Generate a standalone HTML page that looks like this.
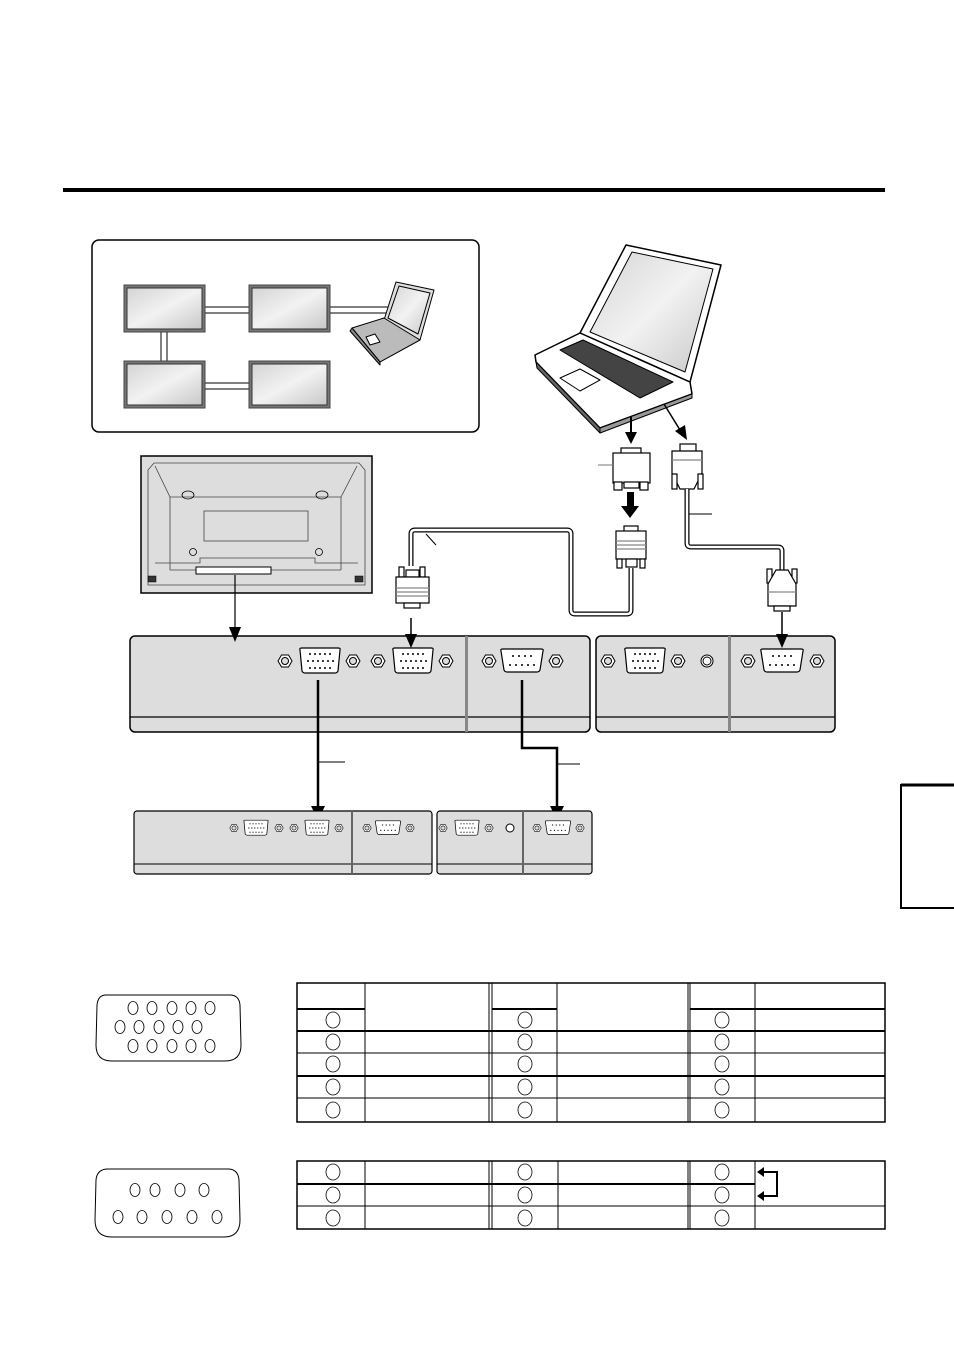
<!DOCTYPE html>
<html><head><meta charset="utf-8"><style>
html,body{margin:0;padding:0;background:#fff;}
svg{display:block;}
</style></head><body>
<svg width="954" height="1350" viewBox="0 0 954 1350" xmlns="http://www.w3.org/2000/svg">
<defs>
  <linearGradient id="scr" x1="0" y1="0" x2="1" y2="1">
    <stop offset="0" stop-color="#d4d4d4"/><stop offset="0.5" stop-color="#f2f2f2"/><stop offset="1" stop-color="#c8c8c8"/>
  </linearGradient>
  <g id="nut">
    <polygon points="-7,0 -3.5,-6 3.5,-6 7,0 3.5,6 -3.5,6" fill="#fff" stroke="#000" stroke-width="1"/>
    <circle r="3.5" fill="#ddd" stroke="#000" stroke-width="1"/>
  </g>
  <g id="hd">
    <path d="M-20,-11 Q-21,-13 -18,-13 L18,-13 Q21,-13 20,-11 L18,10 Q17,12 15,12 L-15,12 Q-17,12 -18,10 Z" fill="#fff" stroke="#000" stroke-width="1.2"/>
    <g fill="#000">
      <circle cx="-10" cy="-7" r="1"/><circle cx="-5" cy="-7" r="1"/><circle cx="0" cy="-7" r="1"/><circle cx="5" cy="-7" r="1"/><circle cx="10" cy="-7" r="1"/>
      <circle cx="-12" cy="0" r="1"/><circle cx="-7" cy="0" r="1"/><circle cx="-2" cy="0" r="1"/><circle cx="3" cy="0" r="1"/><circle cx="8" cy="0" r="1"/><circle cx="13" cy="0" r="1"/>
      <circle cx="-10" cy="7" r="1"/><circle cx="-5" cy="7" r="1"/><circle cx="0" cy="7" r="1"/><circle cx="5" cy="7" r="1"/><circle cx="10" cy="7" r="1"/>
    </g>
  </g>
  <g id="db">
    <path d="M-21,-10 Q-22,-12 -19,-12 L19,-12 Q22,-12 21,-10 L18,9 Q17,11 15,11 L-15,11 Q-17,11 -18,9 Z" fill="#fff" stroke="#000" stroke-width="1.2"/>
    <g fill="#000">
      <circle cx="-9" cy="-5" r="1"/><circle cx="-3" cy="-5" r="1"/><circle cx="3" cy="-5" r="1"/><circle cx="9" cy="-5" r="1"/>
      <circle cx="-12" cy="4" r="1"/><circle cx="-6" cy="4" r="1"/><circle cx="0" cy="4" r="1"/><circle cx="6" cy="4" r="1"/><circle cx="12" cy="4" r="1"/>
    </g>
  </g>
  <g id="mon">
    <rect x="0" y="0" width="81" height="47" fill="#777" stroke="#444" stroke-width="1"/>
    <rect x="3" y="3" width="75" height="41" fill="url(#scr)" stroke="#333" stroke-width="1"/>
  </g>
</defs>

<rect x="63" y="188" width="822" height="4" fill="#000"/>

<rect x="92" y="240" width="387" height="192" rx="7" fill="#fff" stroke="#000" stroke-width="1.5"/>
<g stroke="#000" stroke-width="1" fill="#fff">
  <rect x="205" y="307" width="44" height="6"/>
  <rect x="328" y="307" width="60" height="6"/>
  <rect x="161" y="332" width="6" height="29"/>
  <rect x="205" y="383" width="44" height="6"/>
</g>
<use href="#mon" x="124" y="285"/>
<use href="#mon" x="249" y="285"/>
<use href="#mon" x="124" y="361"/>
<use href="#mon" x="249" y="361"/>
<g stroke="#000" stroke-width="1" stroke-linejoin="round">
  <polygon points="396,282 434,290 420,340 384,320" fill="#ddd"/>
  <polygon points="399,286 430,293 418,334 388,318" fill="url(#scr)"/>
  <polygon points="352,328 384,318 420,340 380,362" fill="#bbb"/>
  <polygon points="352,328 380,362 380,365 350,331" fill="#888"/>
  <polygon points="366,337 375,334 380,342 370,345" fill="#fff"/>
</g>

<g stroke="#000" stroke-width="1.5" stroke-linejoin="round">
  <polygon points="626,245 721,265 690,382 580,333" fill="#fff"/>
  <polygon points="632,252 713,269 685,372 590,332" fill="url(#scr)" stroke-width="1"/>
  <polygon points="535,355 580,333 690,382 692,394 600,428 536,362" fill="#fff"/>
  <polygon points="583,340 673,382 640,398 560,350" fill="#444" stroke-width="1"/>
  <polygon points="560,378 580,369 600,380 580,391" fill="#fff" stroke-width="1"/>
  <polygon points="536,362 600,428 600,433 537,368" fill="#666" stroke-width="1"/>
  <polygon points="600,428 692,394 692,398 600,433" fill="#999" stroke-width="1"/>
</g>

<line x1="631" y1="417" x2="631" y2="434" stroke="#000" stroke-width="2"/>
<polygon points="625,432 637,432 631,444" fill="#000"/>
<line x1="664" y1="404" x2="680" y2="430" stroke="#000" stroke-width="1.5"/>
<polygon points="675,431 685,425 687,440" fill="#000"/>
<g stroke="#000" stroke-width="1.2" fill="#fff">
  <rect x="621" y="448" width="20" height="6"/>
  <rect x="613" y="453" width="37" height="30"/>
  <rect x="614" y="482" width="8" height="8"/>
  <rect x="640" y="482" width="8" height="8"/>
  <rect x="624" y="482" width="15" height="6"/>
</g>
<line x1="598" y1="465" x2="613" y2="465" stroke="#777" stroke-width="1"/>
<polygon points="627,492 634,492 634,506 639,506 630,518 621,506 627,506" fill="#000"/>
<g stroke="#000" stroke-width="1.2" fill="#fff">
  <rect x="624" y="526" width="14" height="6"/>
  <rect x="616" y="531" width="30" height="28"/>
  <line x1="616" y1="541" x2="646" y2="541" stroke="#888"/>
  <line x1="616" y1="545" x2="646" y2="545" stroke="#888"/>
  <line x1="616" y1="549" x2="646" y2="549" stroke="#888"/>
  <rect x="617" y="559" width="5" height="9"/>
  <rect x="640" y="559" width="5" height="9"/>
  <rect x="626" y="559" width="11" height="8"/>
</g>
<g stroke="#000" stroke-width="1.2" fill="#fff">
  <rect x="680" y="444" width="16" height="8"/>
  <path d="M672,451 L702,451 L702,473 L694,489 L680,489 L672,473 Z"/>
  <line x1="672" y1="460" x2="702" y2="460" stroke="#888"/>
  <rect x="672" y="474" width="5" height="15"/>
  <rect x="698" y="474" width="5" height="15"/>
</g>

<g fill="none" stroke-linejoin="round">
  <path d="M631,568 L631,610 Q631,614 627,614 L575,614 Q571,614 571,610 L571,534 Q571,530 567,530 L415,530 Q411,530 411,534 L411,566" stroke="#000" stroke-width="5"/>
  <path d="M631,568 L631,610 Q631,614 627,614 L575,614 Q571,614 571,610 L571,534 Q571,530 567,530 L415,530 Q411,530 411,534 L411,566" stroke="#fff" stroke-width="2.5"/>
  <path d="M687,489 L687,543 Q687,547 691,547 L778,547 Q782,547 782,551 L782,572" stroke="#000" stroke-width="5"/>
  <path d="M687,489 L687,543 Q687,547 691,547 L778,547 Q782,547 782,551 L782,572" stroke="#fff" stroke-width="2.5"/>
</g>
<line x1="426" y1="534" x2="436" y2="545" stroke="#000" stroke-width="1"/>
<line x1="689" y1="514" x2="712" y2="514" stroke="#000" stroke-width="1"/>
<g stroke="#000" stroke-width="1.2" fill="#fff">
  <rect x="399" y="567" width="5" height="10"/>
  <rect x="420" y="567" width="5" height="10"/>
  <rect x="406" y="570" width="13" height="7"/>
  <rect x="396" y="577" width="33" height="26"/>
  <line x1="396" y1="588" x2="429" y2="588" stroke="#888"/>
  <line x1="396" y1="592" x2="429" y2="592" stroke="#888"/>
  <line x1="396" y1="596" x2="429" y2="596" stroke="#888"/>
  <rect x="404" y="603" width="16" height="5"/>
</g>
<g stroke="#000" stroke-width="1.2" fill="#fff">
  <rect x="767" y="569" width="5" height="14"/>
  <rect x="792" y="569" width="5" height="14"/>
  <path d="M776,570 L788,570 L796,584 L796,606 L768,606 L768,584 Z"/>
  <line x1="768" y1="592" x2="796" y2="592" stroke="#888"/>
  <rect x="774" y="606" width="16" height="5"/>
</g>

<g stroke="#000" fill="none">
  <rect x="141" y="456" width="231" height="137" fill="#ddd" stroke-width="1.5"/>
  <path d="M154,463 L359,463 L365,470 L365,585 L148,585 L148,470 Z" stroke-width="0.8" stroke="#444"/>
  <path d="M155,466 L170,497 L341,497 L357,466" stroke-width="0.8" stroke="#444"/>
  <path d="M170,497 L170,570 M341,497 L341,570 M170,570 L341,570" stroke-width="0.8" stroke="#444"/>
  <rect x="204" y="511" width="104" height="30" stroke-width="0.8" stroke="#444"/>
  <ellipse cx="188" cy="495" rx="6" ry="4" stroke-width="0.8"/>
  <ellipse cx="322" cy="495" rx="6" ry="4" stroke-width="0.8"/>
  <circle cx="193" cy="552" r="3.5" stroke-width="0.8"/>
  <circle cx="319" cy="552" r="3.5" stroke-width="0.8"/>
  <path d="M155,563 L200,563 L200,558 L315,558 L315,563 L358,563" stroke-width="0.8" stroke="#444"/>
  <rect x="196" y="567" width="75" height="7" fill="#fff" stroke-width="1"/>
  <rect x="148" y="576" width="8" height="6" fill="#333" stroke-width="0.5"/>
  <rect x="355" y="576" width="8" height="6" fill="#333" stroke-width="0.5"/>
</g>

<rect x="130" y="636" width="460" height="96" rx="5" fill="#ddd" stroke="#000" stroke-width="1.5"/>
<line x1="130" y1="717" x2="590" y2="717" stroke="#000" stroke-width="1.2"/>
<rect x="465" y="636" width="3" height="96" fill="#888"/>
<use href="#nut" x="285" y="661"/><use href="#hd" x="320" y="661"/><use href="#nut" x="353" y="661"/>
<use href="#nut" x="378" y="661"/><use href="#hd" x="413" y="661"/><use href="#nut" x="446" y="661"/>
<use href="#nut" x="489" y="661"/><use href="#db" x="522" y="661"/><use href="#nut" x="556" y="661"/>

<rect x="596" y="636" width="239" height="96" rx="5" fill="#ddd" stroke="#000" stroke-width="1.5"/>
<line x1="596" y1="717" x2="835" y2="717" stroke="#000" stroke-width="1.2"/>
<rect x="728" y="636" width="3" height="96" fill="#888"/>
<use href="#nut" x="608" y="661"/><use href="#hd" x="645" y="661"/><use href="#nut" x="678" y="661"/>
<circle cx="707" cy="661" r="6" fill="#fff" stroke="#000"/><circle cx="707" cy="661" r="4" fill="#fff" stroke="#000"/>
<use href="#nut" x="748" y="661"/><use href="#db" x="782" y="661"/><use href="#nut" x="817" y="661"/>

<!-- arrows onto panels (drawn on top) -->
<line x1="235" y1="575" x2="235" y2="630" stroke="#000" stroke-width="1.2"/>
<polygon points="229,627 241,627 235,642" fill="#000"/>
<line x1="411" y1="618" x2="411" y2="636" stroke="#000" stroke-width="1.5"/>
<polygon points="405,634 417,634 411,648" fill="#000"/>
<line x1="782" y1="612" x2="782" y2="636" stroke="#000" stroke-width="1.5"/>
<polygon points="776,634 788,634 782,648" fill="#000"/>

<path d="M318,680 L318,808" stroke="#000" stroke-width="2.5" fill="none"/>
<polygon points="311,806 325,806 318,820" fill="#000"/>
<path d="M522,680 L522,748 L557,748 L557,808" stroke="#000" stroke-width="2.5" fill="none"/>
<polygon points="550,806 564,806 557,820" fill="#000"/>
<line x1="318" y1="762" x2="345" y2="762" stroke="#000" stroke-width="1"/>
<line x1="557" y1="764" x2="580" y2="764" stroke="#000" stroke-width="1"/>

<rect x="134" y="811" width="298" height="63" rx="3" fill="#ddd" stroke="#000" stroke-width="1.2"/>
<line x1="134" y1="864" x2="432" y2="864" stroke="#000"/>
<rect x="351" y="811" width="2" height="63" fill="#666"/>
<g transform="translate(0,828)">
  <g transform="translate(234,0) scale(0.6)"><use href="#nut"/></g>
  <g transform="translate(256,0) scale(0.6)"><use href="#hd"/></g>
  <g transform="translate(279,0) scale(0.6)"><use href="#nut"/></g>
  <g transform="translate(294,0) scale(0.6)"><use href="#nut"/></g>
  <g transform="translate(317,0) scale(0.6)"><use href="#hd"/></g>
  <g transform="translate(339,0) scale(0.6)"><use href="#nut"/></g>
  <g transform="translate(367,0) scale(0.6)"><use href="#nut"/></g>
  <g transform="translate(388,0) scale(0.6)"><use href="#db"/></g>
  <g transform="translate(410,0) scale(0.6)"><use href="#nut"/></g>
</g>
<rect x="437" y="811" width="155" height="63" rx="3" fill="#ddd" stroke="#000" stroke-width="1.2"/>
<line x1="437" y1="864" x2="592" y2="864" stroke="#000"/>
<rect x="522" y="811" width="2" height="63" fill="#666"/>
<g transform="translate(0,828)">
  <g transform="translate(443,0) scale(0.6)"><use href="#nut"/></g>
  <g transform="translate(467,0) scale(0.6)"><use href="#hd"/></g>
  <g transform="translate(489,0) scale(0.6)"><use href="#nut"/></g>
  <circle cx="510" cy="0" r="4" fill="#fff" stroke="#000"/>
  <g transform="translate(537,0) scale(0.6)"><use href="#nut"/></g>
  <g transform="translate(558,0) scale(0.6)"><use href="#db"/></g>
  <g transform="translate(580,0) scale(0.6)"><use href="#nut"/></g>
</g>

<path d="M954,785 L901,785 L901,908 L954,908" fill="none" stroke="#000" stroke-width="2"/>
<line x1="901" y1="785" x2="954" y2="785" stroke="#000" stroke-width="3"/>

<path d="M106,995 L230,995 Q239,995 240,1005 L241,1045 Q241,1061 225,1061 L112,1061 Q96,1061 96,1045 L97,1005 Q98,995 106,995 Z" fill="#fff" stroke="#000" stroke-width="1"/>
<g fill="#fff" stroke="#000" stroke-width="0.8">
  <ellipse cx="133" cy="1008" rx="5" ry="6.5"/><ellipse cx="152" cy="1008" rx="5" ry="6.5"/><ellipse cx="172" cy="1008" rx="5" ry="6.5"/><ellipse cx="191" cy="1008" rx="5" ry="6.5"/><ellipse cx="210" cy="1008" rx="5" ry="6.5"/>
  <ellipse cx="120" cy="1027" rx="5" ry="6.5"/><ellipse cx="139" cy="1027" rx="5" ry="6.5"/><ellipse cx="159" cy="1027" rx="5" ry="6.5"/><ellipse cx="178" cy="1027" rx="5" ry="6.5"/><ellipse cx="197" cy="1027" rx="5" ry="6.5"/>
  <ellipse cx="133" cy="1046" rx="5" ry="6.5"/><ellipse cx="152" cy="1046" rx="5" ry="6.5"/><ellipse cx="172" cy="1046" rx="5" ry="6.5"/><ellipse cx="191" cy="1046" rx="5" ry="6.5"/><ellipse cx="210" cy="1046" rx="5" ry="6.5"/>
</g>
<path d="M108,1169 L228,1169 Q238,1169 239,1180 L240,1220 Q240,1237 224,1237 L112,1237 Q95,1237 95,1220 L96,1180 Q97,1169 108,1169 Z" fill="#fff" stroke="#000" stroke-width="1"/>
<g fill="#fff" stroke="#000" stroke-width="0.8">
  <ellipse cx="135" cy="1190" rx="5" ry="6.5"/><ellipse cx="155" cy="1190" rx="5" ry="6.5"/><ellipse cx="180" cy="1190" rx="5" ry="6.5"/><ellipse cx="204" cy="1190" rx="5" ry="6.5"/>
  <ellipse cx="118" cy="1217" rx="5" ry="6.5"/><ellipse cx="142" cy="1217" rx="5" ry="6.5"/><ellipse cx="167" cy="1217" rx="5" ry="6.5"/><ellipse cx="192" cy="1217" rx="5" ry="6.5"/><ellipse cx="217" cy="1217" rx="5" ry="6.5"/>
</g>

<g stroke="#000" fill="none">
  <rect x="297" y="983" width="588" height="139" stroke-width="1.5"/>
  <line x1="365" y1="983" x2="365" y2="1122"/>
  <line x1="489" y1="983" x2="489" y2="1122"/><line x1="492" y1="983" x2="492" y2="1122"/>
  <line x1="557" y1="983" x2="557" y2="1122"/>
  <line x1="688" y1="983" x2="688" y2="1122"/><line x1="690" y1="983" x2="690" y2="1122"/>
  <line x1="755" y1="983" x2="755" y2="1122"/>
  <line x1="297" y1="1009" x2="365" y2="1009" stroke-width="2"/>
  <line x1="492" y1="1009" x2="557" y2="1009" stroke-width="2"/>
  <line x1="690" y1="1009" x2="885" y2="1009" stroke-width="2"/>
  <line x1="297" y1="1031" x2="885" y2="1031" stroke-width="2"/>
  <line x1="297" y1="1053" x2="885" y2="1053"/>
  <line x1="297" y1="1076" x2="885" y2="1076" stroke-width="2"/>
  <line x1="297" y1="1098" x2="885" y2="1098"/>
</g>
<g fill="#fff" stroke="#000" stroke-width="0.8">
  <ellipse cx="333" cy="1020" rx="7" ry="8"/><ellipse cx="333" cy="1042" rx="7" ry="8"/><ellipse cx="333" cy="1064" rx="7" ry="8"/><ellipse cx="333" cy="1087" rx="7" ry="8"/><ellipse cx="333" cy="1110" rx="7" ry="8"/>
  <ellipse cx="525" cy="1020" rx="7" ry="8"/><ellipse cx="525" cy="1042" rx="7" ry="8"/><ellipse cx="525" cy="1064" rx="7" ry="8"/><ellipse cx="525" cy="1087" rx="7" ry="8"/><ellipse cx="525" cy="1110" rx="7" ry="8"/>
  <ellipse cx="722" cy="1020" rx="7" ry="8"/><ellipse cx="722" cy="1042" rx="7" ry="8"/><ellipse cx="722" cy="1064" rx="7" ry="8"/><ellipse cx="722" cy="1087" rx="7" ry="8"/><ellipse cx="722" cy="1110" rx="7" ry="8"/>
</g>

<g stroke="#000" fill="none">
  <rect x="297" y="1161" width="588" height="68" stroke-width="1.5"/>
  <line x1="365" y1="1161" x2="365" y2="1229"/>
  <line x1="489" y1="1161" x2="489" y2="1229"/><line x1="492" y1="1161" x2="492" y2="1229"/>
  <line x1="558" y1="1161" x2="558" y2="1229"/>
  <line x1="688" y1="1161" x2="688" y2="1229"/><line x1="690" y1="1161" x2="690" y2="1229"/>
  <line x1="755" y1="1161" x2="755" y2="1229"/>
  <line x1="297" y1="1184" x2="755" y2="1184" stroke-width="2"/>
  <line x1="297" y1="1206" x2="885" y2="1206"/>
  <path d="M762,1172 L777,1172 L777,1196 L762,1196" stroke-width="2"/>
</g>
<polygon points="757,1172 764,1167 764,1177" fill="#000"/>
<polygon points="757,1196 764,1191 764,1201" fill="#000"/>
<g fill="#fff" stroke="#000" stroke-width="0.8">
  <ellipse cx="333" cy="1172" rx="7" ry="8"/><ellipse cx="333" cy="1195" rx="7" ry="8"/><ellipse cx="333" cy="1218" rx="7" ry="8"/>
  <ellipse cx="525" cy="1172" rx="7" ry="8"/><ellipse cx="525" cy="1195" rx="7" ry="8"/><ellipse cx="525" cy="1218" rx="7" ry="8"/>
  <ellipse cx="722" cy="1172" rx="7" ry="8"/><ellipse cx="722" cy="1195" rx="7" ry="8"/><ellipse cx="722" cy="1218" rx="7" ry="8"/>
</g>
</svg>
</body></html>
